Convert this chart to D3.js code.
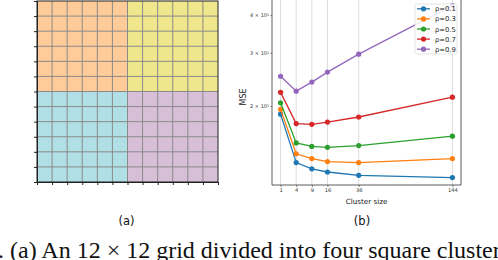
<!DOCTYPE html>
<html>
<head>
<meta charset="utf-8">
<script src="https://cdn.jsdelivr.net/npm/d3@7"></script>
<style>
  body { margin: 0; background: #fff; }
  svg { display: block; }
</style>
</head>
<body>
<div id="chart"></div>
<script>
// cluster sizes on the x axis
var clusterSizes = [1, 4, 9, 16, 36, 144];
var rhoLabels = ["ρ=0.1", "ρ=0.3", "ρ=0.5", "ρ=0.7", "ρ=0.9"];
var mse01 = [18.8, 13.0, 12.4, 12.1, 11.8, 11.6];
var mse03 = [19.5, 13.9, 13.4, 13.1, 13.0, 13.4];
var mse05 = [20.5, 15.1, 14.7, 14.6, 14.8, 15.9];
var mse07 = [22.2, 17.5, 17.4, 17.7, 18.4, 21.4];
var mse09 = [25.1, 22.4, 24.0, 25.9, 29.7, 43.0];
var yTicks = [20, 30, 40];
var yTickLabels = ["2 × 10¹", "3 × 10¹", "4 × 10¹"];
// panel (a): 12x12 grid, four 6x6 clusters
var gridN = 12;
var clusterColors = ["#ffcc99", "#f0e68c", "#b0e0e6", "#d8bfd8"];

var series = [mse01, mse03, mse05, mse07, mse09];
var colors = ["#1f77b4", "#ff7f0e", "#2ca02c", "#d62728", "#9467bd"];

var svg = d3.select("#chart").append("svg")
  .attr("width", 498)
  .attr("height", 260);

// ---- panel (a) ----
var gx = d3.scaleLinear().domain([0, gridN]).range([37, 218]);
var gy = d3.scaleLinear().domain([0, gridN]).range([1, 182]);
var ga = svg.append("g");

var quads = [[0, 0], [6, 0], [0, 6], [6, 6]];
ga.selectAll("rect.q")
  .data(quads)
  .enter().append("rect")
  .attr("class", "q")
  .attr("x", function(d) { return gx(d[0]); })
  .attr("y", function(d) { return gy(d[1]); })
  .attr("width", gx(6) - gx(0))
  .attr("height", gy(6) - gy(0))
  .attr("fill", function(d, i) { return clusterColors[i]; });

var lines = d3.range(1, gridN);
ga.selectAll("line.v")
  .data(lines)
  .enter().append("line")
  .attr("x1", function(d) { return gx(d); })
  .attr("x2", function(d) { return gx(d); })
  .attr("y1", gy(0)).attr("y2", gy(gridN))
  .attr("stroke", "#8a8a8a").attr("stroke-width", 1);
ga.selectAll("line.h")
  .data(lines)
  .enter().append("line")
  .attr("y1", function(d) { return gy(d); })
  .attr("y2", function(d) { return gy(d); })
  .attr("x1", gx(0)).attr("x2", gx(gridN))
  .attr("stroke", "#8a8a8a").attr("stroke-width", 1);

ga.append("g")
  .attr("transform", "translate(0," + gy(gridN) + ")")
  .call(d3.axisBottom(gx).tickValues(d3.range(0, gridN + 1)).tickSize(3).tickFormat(""))
  .call(function(g) { g.selectAll("line, path").attr("stroke", "#222"); });
ga.append("g")
  .attr("transform", "translate(" + gx(0) + ",0)")
  .call(d3.axisLeft(gy).tickValues(d3.range(0, gridN + 1)).tickSize(3).tickFormat(""))
  .call(function(g) { g.selectAll("line, path").attr("stroke", "#222"); });
ga.append("rect")
  .attr("x", gx(0)).attr("y", gy(0))
  .attr("width", gx(gridN) - gx(0)).attr("height", gy(gridN) - gy(0))
  .attr("fill", "none").attr("stroke", "#222").attr("stroke-width", 1);

// ---- panel (b) ----
var x = d3.scaleSqrt().domain([0.45 * 0.45, 12.55 * 12.55]).range([272, 461]);
var y = d3.scaleLog().domain([10.96, 45.9]).range([185, -3]);
var gb = svg.append("g");

gb.selectAll("line.grid")
  .data(clusterSizes)
  .enter().append("line")
  .attr("x1", function(d) { return x(d); })
  .attr("x2", function(d) { return x(d); })
  .attr("y1", 0).attr("y2", 185)
  .attr("stroke", "#dcdcdc").attr("stroke-width", 1);

var line = d3.line()
  .x(function(d, i) { return x(clusterSizes[i]); })
  .y(function(d) { return y(d); });

series.forEach(function(s, k) {
  gb.append("path")
    .datum(s)
    .attr("d", line)
    .attr("fill", "none")
    .attr("stroke", colors[k])
    .attr("stroke-width", 1.3);
  gb.selectAll("circle.s" + k)
    .data(s)
    .enter().append("circle")
    .attr("cx", function(d, i) { return x(clusterSizes[i]); })
    .attr("cy", function(d) { return y(d); })
    .attr("r", 2.6)
    .attr("fill", colors[k]);
});

var xAxis = gb.append("g")
  .attr("transform", "translate(0,185)")
  .call(d3.axisBottom(x).tickValues(clusterSizes).tickSize(2).tickPadding(1.5).tickFormat(d3.format("d")));
xAxis.select(".domain").remove();
xAxis.selectAll("text").attr("font-family", "DejaVu Sans").attr("font-size", 5.2).attr("fill", "#333");
xAxis.selectAll("line").attr("stroke", "#333").attr("stroke-width", 0.6);

var yAxis = gb.append("g")
  .attr("transform", "translate(272,0)")
  .call(d3.axisLeft(y).tickValues(yTicks).tickSize(1.5).tickPadding(1.5)
    .tickFormat(function(d, i) { return yTickLabels[i]; }));
yAxis.select(".domain").remove();
yAxis.selectAll("text").attr("font-family", "DejaVu Sans").attr("font-size", 5).attr("fill", "#333");
yAxis.selectAll("line").attr("stroke", "#333").attr("stroke-width", 0.6);

// spines (top is cropped)
gb.append("path")
  .attr("d", "M272,-5V185H461V-5")
  .attr("fill", "none").attr("stroke", "#333").attr("stroke-width", 0.8);

gb.append("text")
  .attr("transform", "translate(246,97) rotate(-90)")
  .attr("text-anchor", "middle")
  .attr("font-family", "DejaVu Sans").attr("font-size", 8)
  .attr("fill", "#222")
  .text("MSE");
gb.append("text")
  .attr("x", 366.5).attr("y", 204)
  .attr("text-anchor", "middle")
  .attr("font-family", "DejaVu Sans").attr("font-size", 7.2)
  .attr("fill", "#222")
  .text("Cluster size");

// legend
var lg = gb.append("g").attr("transform", "translate(415,4)");
lg.append("rect")
  .attr("width", 42).attr("height", 50).attr("rx", 1.5)
  .attr("fill", "#fff").attr("fill-opacity", 0.85)
  .attr("stroke", "#d8d8d8").attr("stroke-width", 0.7);
rhoLabels.forEach(function(lbl, k) {
  var ly = 4.8 + k * 10.1;
  lg.append("line")
    .attr("x1", 2).attr("x2", 15).attr("y1", ly).attr("y2", ly)
    .attr("stroke", colors[k]).attr("stroke-width", 1.3);
  lg.append("circle")
    .attr("cx", 8.5).attr("cy", ly).attr("r", 2.6).attr("fill", colors[k]);
  lg.append("text")
    .attr("x", 20).attr("y", ly + 2.5)
    .attr("font-family", "DejaVu Sans").attr("font-size", 6.8)
    .attr("fill", "#222")
    .text(lbl);
});

// sub captions
svg.append("text")
  .attr("x", 126.5).attr("y", 224.5)
  .attr("text-anchor", "middle")
  .attr("font-family", "DejaVu Sans").attr("font-size", 11.5)
  .attr("fill", "#111")
  .text("(a)");
svg.append("text")
  .attr("x", 362).attr("y", 224.5)
  .attr("text-anchor", "middle")
  .attr("font-family", "DejaVu Sans").attr("font-size", 11.5)
  .attr("fill", "#111")
  .text("(b)");

// figure caption, cropped at the right edge as in the source
svg.append("text")
  .attr("x", -2).attr("y", 258)
  .attr("font-family", "Liberation Serif").attr("font-size", 24)
  .attr("fill", "#111")
  .text(". (a) An 12 × 12 grid divided into four square clusters");
</script>
</body>
</html>
